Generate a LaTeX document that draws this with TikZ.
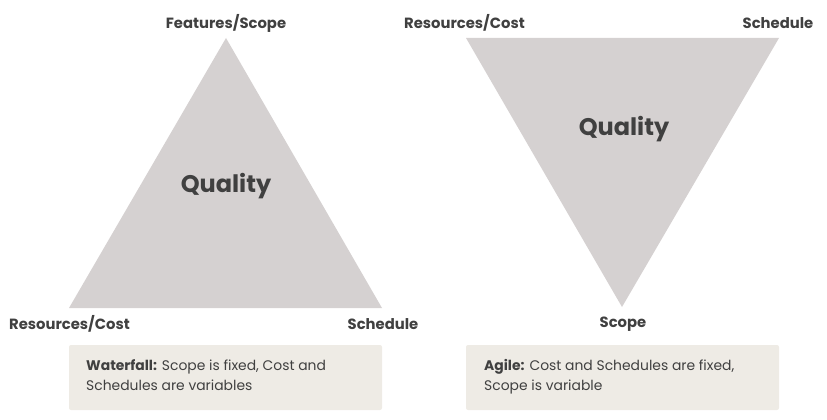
\documentclass[tikz,border=0pt]{standalone}
\usepackage{fontspec}
\setmainfont{Poppins}
\definecolor{tri}{HTML}{D5D1D1}
\definecolor{boxc}{HTML}{EEEBE5}
\definecolor{txt}{HTML}{404040}
\tikzset{
  trishape/.style={fill=tri, draw=none},
  vlabel/.style={font=\fontsize{14.8}{18}\selectfont\bfseries, text=txt, inner sep=0pt},
  qlabel/.style={font=\fontsize{24}{30}\selectfont\bfseries, text=txt, inner sep=0pt},
  notebox/.style={fill=boxc, rounded corners=2pt, minimum width=313pt, minimum height=65pt, inner sep=0pt},
  notetext/.style={font=\fontsize{13.9}{20.5}\selectfont, text=txt, inner sep=0pt, align=left, anchor=north west}
}
\begin{document}
\begin{tikzpicture}[x=1pt,y=-1pt]
\useasboundingbox (0,0) rectangle (827,420);
% left triangle
\coordinate (LA) at (226,38);
\coordinate (LB) at (69,308);
\coordinate (LC) at (382,308);
\fill[trishape] (LA) -- (LB) -- (LC) -- cycle;
\node[qlabel] (lq) at (226,186) {Quality};
\node[vlabel] (lf) at (226,23) {Features/Scope};
\node[vlabel] (lr) at (69.5,324) {Resources/Cost};
\node[vlabel] (ls) at (383,324) {Schedule};
\node[notebox] (lbox) at (225.5,377.5) {};
\node[notetext] (lt) at (86,359) {\textbf{Waterfall:} Scope is fixed, Cost and\\Schedules are variables};
% right triangle
\coordinate (RA) at (466,38);
\coordinate (RB) at (779,38);
\coordinate (RC) at (622,307);
\fill[trishape] (RA) -- (RB) -- (RC) -- cycle;
\node[qlabel] (rq) at (624,129) {Quality};
\node[vlabel] (rr) at (464.5,23) {Resources/Cost};
\node[vlabel] (rs) at (778,23) {Schedule};
\node[vlabel] (rsc) at (623,324) {Scope};
\node[notebox] (rbox) at (622.5,377.5) {};
\node[notetext] (rt) at (484,359) {\textbf{Agile:} Cost and Schedules are fixed,\\Scope is variable};
\end{tikzpicture}
\end{document}
